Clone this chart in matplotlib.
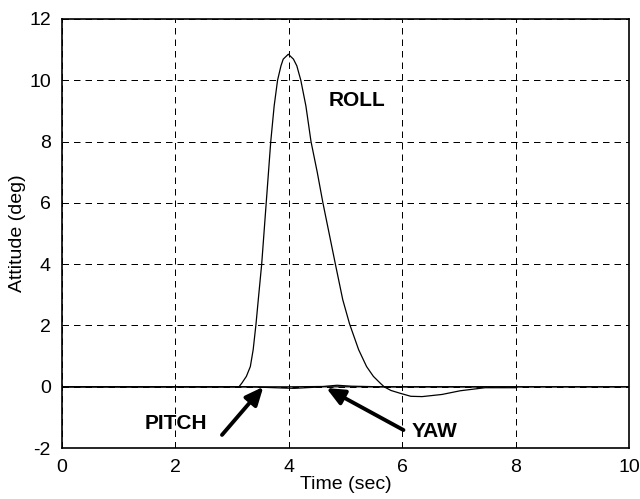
import matplotlib
matplotlib.use("Agg")
import matplotlib.pyplot as plt

# Roll response (deg) vs time (sec)
roll_t = [0, 3.0, 3.12, 3.17, 3.25, 3.32, 3.37, 3.42, 3.46, 3.52, 3.60, 3.68,
          3.74, 3.80, 3.86, 3.90, 3.99, 4.08, 4.14, 4.21, 4.30, 4.39, 4.50,
          4.60, 4.71, 4.82, 4.95, 5.07, 5.23, 5.37, 5.49, 5.61, 5.68, 5.80,
          5.96, 6.15, 6.35, 6.70, 7.02, 7.46, 8.0]
roll_deg = [0, 0, 0, 0.12, 0.34, 0.66, 1.21, 2.05, 2.84, 4.0, 6.0, 8.0,
            9.16, 10.0, 10.47, 10.69, 10.85, 10.69, 10.47, 10.0, 9.16, 8.0, 7.0,
            6.0, 5.0, 4.0, 2.84, 2.05, 1.21, 0.66, 0.34, 0.12, 0.0, -0.12,
            -0.21, -0.31, -0.32, -0.25, -0.13, -0.03, -0.03]

# Pitch and yaw responses stay near zero
pitch_t = [0, 3.3, 3.6, 3.9, 4.1, 4.3, 4.6, 6.0, 8.0, 10.0]
pitch_deg = [0, 0, -0.02, -0.04, -0.05, -0.03, 0, 0, 0, 0]
yaw_t = [0, 4.0, 4.6, 4.85, 5.1, 5.6, 8.0, 10.0]
yaw_deg = [0, 0, 0.01, 0.05, 0.02, 0, 0, 0]

xticks = [0, 2, 4, 6, 8, 10]
yticks = [-2, 0, 2, 4, 6, 8, 10, 12]

plt.rcParams['font.family'] = ['Liberation Sans', 'DejaVu Sans']
plt.rcParams['axes.unicode_minus'] = False

fig = plt.figure(figsize=(6.4, 4.99), dpi=100)
ax = fig.add_axes([0.097, 0.102, 0.886, 0.860])

ax.plot(pitch_t, pitch_deg, color='k', lw=0.9)
ax.plot(yaw_t, yaw_deg, color='k', lw=0.9)
ax.plot(roll_t, roll_deg, color='k', lw=0.9)

ax.set_xlim(0, 10)
ax.set_ylim(-2, 12)
ax.set_xticks(xticks)
ax.set_yticks(yticks)
ax.grid(True, color='k', lw=0.72, linestyle=(0, (6.5, 5)))
ax.tick_params(length=0, labelsize=14, pad=8)
for s in ax.spines.values():
    s.set_linewidth(1.2)

ax.set_xlabel('Time (sec)', fontsize=14, labelpad=0)
ax.set_ylabel('Attitude (deg)', fontsize=14, labelpad=2)

ax.text(5.2, 9.35, 'ROLL', fontsize=15, fontweight='bold', ha='center', va='center')
ax.text(2.0, -1.21, 'PITCH', fontsize=15, fontweight='bold', ha='center', va='center')
ax.text(6.16, -1.45, 'YAW', fontsize=15, fontweight='bold', ha='left', va='center')

arrow = dict(arrowstyle='-|>,head_length=0.9,head_width=0.4', lw=2.8, color='k',
             shrinkA=0, shrinkB=0, mutation_scale=12)
ax.annotate('', xy=(3.55, 0.0), xytext=(2.82, -1.57), arrowprops=arrow)
ax.annotate('', xy=(4.66, -0.04), xytext=(6.02, -1.41), arrowprops=arrow)

fig.savefig('out.png', dpi=100)
